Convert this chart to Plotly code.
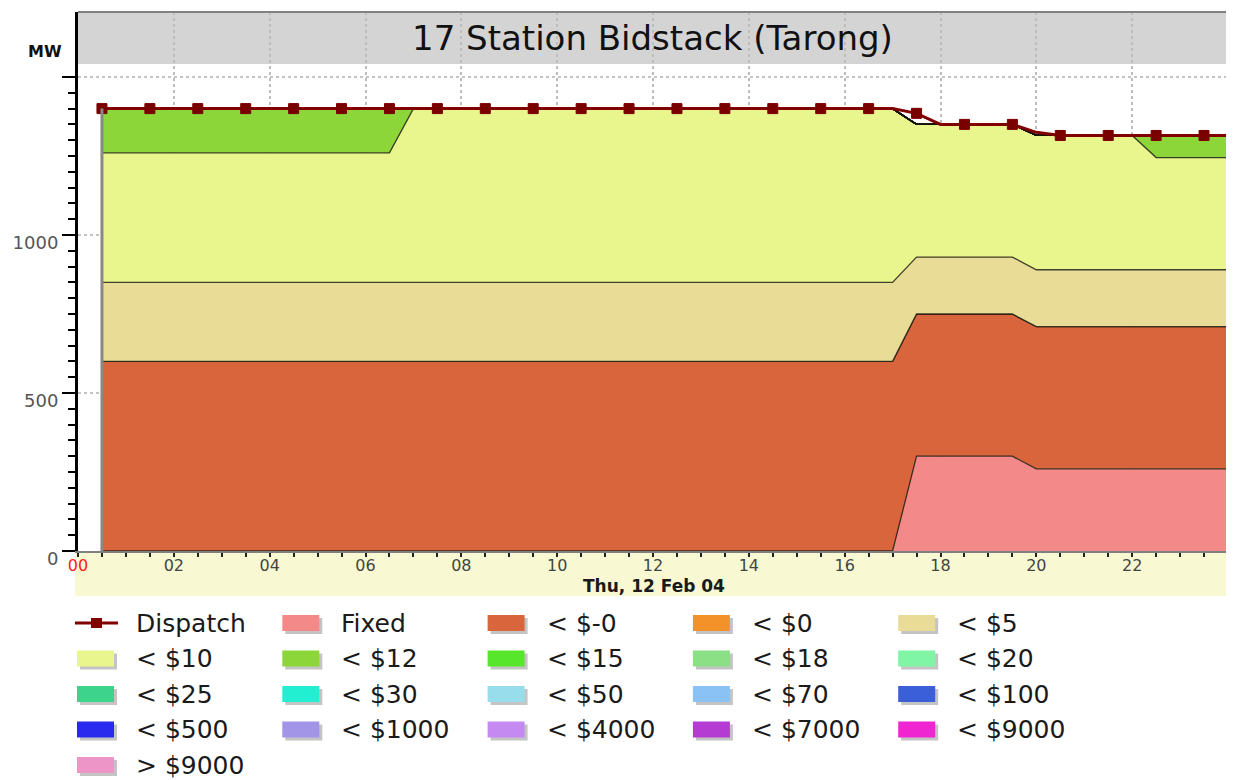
import plotly.graph_objects as go

# ---------------- data ----------------
TIME_LABELS = [
    "00:30", "01:00", "01:30", "02:00", "02:30", "03:00", "03:30", "04:00",
    "04:30", "05:00", "05:30", "06:00", "06:30", "07:00", "07:30", "08:00",
    "08:30", "09:00", "09:30", "10:00", "10:30", "11:00", "11:30", "12:00",
    "12:30", "13:00", "13:30", "14:00", "14:30", "15:00", "15:30", "16:00",
    "16:30", "17:00", "17:30", "18:00", "18:30", "19:00", "19:30", "20:00",
    "20:30", "21:00", "21:30", "22:00", "22:30", "23:00", "23:30", "24:00",
]

dispatch = [
    1400, 1400, 1400, 1400, 1400, 1400, 1400, 1400, 1400, 1400, 1400, 1400,
    1400, 1400, 1400, 1400, 1400, 1400, 1400, 1400, 1400, 1400, 1400, 1400,
    1400, 1400, 1400, 1400, 1400, 1400, 1400, 1400, 1400, 1400, 1385, 1350,
    1350, 1350, 1350, 1325, 1315, 1315, 1315, 1315, 1315, 1315, 1315, 1315,
]
fixed = [
    0, 0, 0, 0, 0, 0, 0, 0, 0, 0, 0, 0,
    0, 0, 0, 0, 0, 0, 0, 0, 0, 0, 0, 0,
    0, 0, 0, 0, 0, 0, 0, 0, 0, 0, 300, 300,
    300, 300, 300, 260, 260, 260, 260, 260, 260, 260, 260, 260,
]
below_m0 = [
    600, 600, 600, 600, 600, 600, 600, 600, 600, 600, 600, 600,
    600, 600, 600, 600, 600, 600, 600, 600, 600, 600, 600, 600,
    600, 600, 600, 600, 600, 600, 600, 600, 600, 600, 450, 450,
    450, 450, 450, 450, 450, 450, 450, 450, 450, 450, 450, 450,
]
below_5 = [
    250, 250, 250, 250, 250, 250, 250, 250, 250, 250, 250, 250,
    250, 250, 250, 250, 250, 250, 250, 250, 250, 250, 250, 250,
    250, 250, 250, 250, 250, 250, 250, 250, 250, 250, 180, 180,
    180, 180, 180, 180, 180, 180, 180, 180, 180, 180, 180, 180,
]
below_10 = [
    410, 410, 410, 410, 410, 410, 410, 410, 410, 410, 410, 410,
    410, 550, 550, 550, 550, 550, 550, 550, 550, 550, 550, 550,
    550, 550, 550, 550, 550, 550, 550, 550, 550, 550, 420, 420,
    420, 420, 420, 425, 425, 425, 425, 425, 355, 355, 355, 355,
]
below_12 = [
    140, 140, 140, 140, 140, 140, 140, 140, 140, 140, 140, 140,
    140, 0, 0, 0, 0, 0, 0, 0, 0, 0, 0, 0,
    0, 0, 0, 0, 0, 0, 0, 0, 0, 0, 0, 0,
    0, 0, 0, 0, 0, 0, 0, 0, 70, 70, 70, 70,
]
ZERO = [0] * 48
below_0 = ZERO
below_15 = ZERO
below_18 = ZERO
below_20 = ZERO
below_25 = ZERO
below_30 = ZERO
below_50 = ZERO
below_70 = ZERO
below_100 = ZERO
below_500 = ZERO
below_1000 = ZERO
below_4000 = ZERO
below_7000 = ZERO
below_9000 = ZERO
above_9000 = ZERO

BAND_NAMES = ["Fixed", "< $-0", "< $0", "< $5", "< $10", "< $12", "< $15",
              "< $18", "< $20", "< $25", "< $30", "< $50", "< $70", "< $100",
              "< $500", "< $1000", "< $4000", "< $7000", "< $9000", "> $9000"]
BAND_VALUES = [fixed, below_m0, below_0, below_5, below_10, below_12, below_15,
               below_18, below_20, below_25, below_30, below_50, below_70,
               below_100, below_500, below_1000, below_4000, below_7000,
               below_9000, above_9000]
BAND_COLORS = ["#F4898A", "#D9653C", "#F39229", "#E8DC96", "#E9F58D", "#8DD63A",
               "#57E62B", "#8BDF85", "#7FF5A5", "#3DD38D", "#22EFD2", "#98DDEB",
               "#8AC2F5", "#3B5ED9", "#2A2AEE", "#A294E6", "#C589F2", "#B43CD2",
               "#F025D2", "#EE95C8"]

Y_TICKS = [0, 500, 1000, 1500]
Y_TICK_TEXT = ["0", "500", "1000", ""]
X_TICK_HOURS = ["00", "02", "04", "06", "08", "10", "12", "14", "16", "18", "20", "22"]
DAY = "2004-02-12"
NEXT_DAY = "2004-02-13"
DATE_LABEL = "Thu, 12 Feb 04"
TITLE = "17 Station Bidstack (Tarong)"


def to_dt(lbl):
    if lbl == "24:00":
        return NEXT_DAY + " 00:00"
    return DAY + " " + lbl


times = [to_dt(t) for t in TIME_LABELS]

# ---------------- layout geometry (screen px; page body has an 8px margin) ----------------
OFF = 8
W, H = 1234 - OFF, 780 - OFF
ML, MT = 78 - OFF, 12 - OFF
PW, PH = 1150, 539
MR = W - ML - PW
MB = H - MT - PH
FONT = "DejaVu Sans"


def px(x):
    return (x - 78) / PW


def py(y):
    return (551 - y) / PH


fig = go.Figure()

for name, vals, col in zip(BAND_NAMES, BAND_VALUES, BAND_COLORS):
    fig.add_trace(go.Scatter(
        x=times, y=vals, name=name, stackgroup="bids", mode="lines",
        fillcolor=col, line=dict(color="rgba(20,20,10,0.8)", width=1.3),
        showlegend=False, hoverinfo="x+y+name"))

marker_sizes = [10 if t.endswith(":30") else 0 for t in TIME_LABELS]
fig.add_trace(go.Scatter(
    x=times, y=dispatch, name="Dispatch", mode="lines+markers",
    line=dict(color="#800000", width=3),
    marker=dict(symbol="square", size=marker_sizes, color="#7A0000", opacity=1,
                line=dict(width=1, color="#7A0000")),
    showlegend=False))

shapes = []
annotations = []

# title band
shapes.append(dict(type="rect", xref="paper", yref="paper", x0=0, x1=1,
                   y0=py(64), y1=1, fillcolor="#D4D4D4", line=dict(width=0), layer="below"))
# x-axis band
shapes.append(dict(type="rect", xref="paper", yref="paper", x0=px(75), x1=1,
                   y0=py(596), y1=0, fillcolor="#F8F8D2", line=dict(width=0), layer="below"))
# borders top / right
shapes.append(dict(type="line", xref="paper", yref="paper", x0=0, x1=1, y0=1, y1=1,
                   line=dict(color="#808080", width=2)))
shapes.append(dict(type="line", xref="paper", yref="paper", x0=1, x1=1, y0=0, y1=1,
                   line=dict(color="#7F7F6F", width=2)))
# left edge of the stacked area
total0 = sum(v[0] for v in BAND_VALUES)
shapes.append(dict(type="line", xref="x", yref="y", x0=times[0], x1=times[0], y0=0, y1=total0,
                   line=dict(color="#888888", width=3)))

annotations.append(dict(text=TITLE, xref="paper", yref="paper", x=px(652), y=py(38),
                        xanchor="center", yanchor="middle", showarrow=False,
                        font=dict(family=FONT, size=34, color="#111")))
annotations.append(dict(text="<b>MW</b>", xref="paper", yref="paper", x=px(45), y=py(52),
                        xanchor="center", yanchor="middle", showarrow=False,
                        font=dict(family=FONT, size=16, color="#111")))
annotations.append(dict(text="<b>" + DATE_LABEL + "</b>", xref="paper", yref="paper",
                        x=px(654), y=py(586), xanchor="center", yanchor="middle",
                        showarrow=False, font=dict(family=FONT, size=17, color="#1a1a1a")))

# legend (manual grid)
legend_items = [("Dispatch", "#800000")] + list(zip(BAND_NAMES, BAND_COLORS))
COL_W, ROW_H = 205.3, 35.5
for i, (name, col) in enumerate(legend_items):
    r, c = divmod(i, 5)
    x0 = 77 + COL_W * c
    yc = 623 + ROW_H * r
    if name == "Dispatch":
        shapes.append(dict(type="line", xref="paper", yref="paper",
                           x0=px(x0 - 2), x1=px(x0 + 41), y0=py(yc), y1=py(yc),
                           line=dict(color=col, width=3)))
        shapes.append(dict(type="rect", xref="paper", yref="paper",
                           x0=px(x0 + 14), x1=px(x0 + 25), y0=py(yc + 5), y1=py(yc - 5),
                           fillcolor=col, line=dict(width=0)))
    else:
        shapes.append(dict(type="rect", xref="paper", yref="paper",
                           x0=px(x0 + 3), x1=px(x0 + 40), y0=py(yc + 11), y1=py(yc - 5),
                           fillcolor="#C4C4C4", line=dict(width=0)))
        shapes.append(dict(type="rect", xref="paper", yref="paper",
                           x0=px(x0), x1=px(x0 + 37), y0=py(yc + 8), y1=py(yc - 8),
                           fillcolor=col, line=dict(width=0)))
    annotations.append(dict(text=name, xref="paper", yref="paper", x=px(x0 + 57), y=py(yc),
                            xanchor="left", yanchor="middle", showarrow=False,
                            font=dict(family=FONT, size=25, color="#1a1a1a")))

x_tickvals = [DAY + " " + h + ":00" for h in X_TICK_HOURS]
x_ticktext = ['<span style="color:#FF2020">00</span>'] + X_TICK_HOURS[1:]
y_minor_vals = [v for v in range(50, 1500, 50) if v % 500 != 0]

fig.update_layout(
    width=W, height=H,
    margin=dict(l=ML, r=MR, t=MT, b=MB, pad=0),
    paper_bgcolor="white", plot_bgcolor="white",
    font=dict(family=FONT),
    showlegend=False,
    shapes=shapes, annotations=annotations,
    xaxis=dict(
        type="date", range=[DAY + " 00:00", NEXT_DAY + " 00:00"],
        tickmode="array", tickvals=x_tickvals, ticktext=x_ticktext,
        ticks="outside", ticklen=4, tickwidth=2, tickcolor="#222",
        tickfont=dict(family=FONT, size=16, color="#444"),
        ticklabelstandoff=-5,
        showgrid=True, gridcolor="#BDBDBD", griddash="dot", gridwidth=2,
        showline=True, linecolor="#808080", linewidth=2,
        minor=dict(tickmode="linear", tick0=DAY + " 00:00", dtick=1800000,
                   ticks="outside", ticklen=4, tickwidth=2, tickcolor="#222", showgrid=False),
        zeroline=False, fixedrange=True,
    ),
    yaxis=dict(
        range=[0, PH / 0.316],
        tickmode="array", tickvals=Y_TICKS, ticktext=Y_TICK_TEXT,
        ticks="outside", ticklen=13, tickwidth=2, tickcolor="black",
        tickfont=dict(family=FONT, size=18, color="#555"),
        ticklabelshift=8,
        showgrid=True, gridcolor="#C4C4C4", griddash="dot", gridwidth=2,
        showline=True, linecolor="black", linewidth=3,
        minor=dict(tickmode="array", tickvals=y_minor_vals, ticks="outside",
                   ticklen=7, tickwidth=2, tickcolor="black", showgrid=False),
        zeroline=False, fixedrange=True,
    ),
)

fig.write_html("out.html")
